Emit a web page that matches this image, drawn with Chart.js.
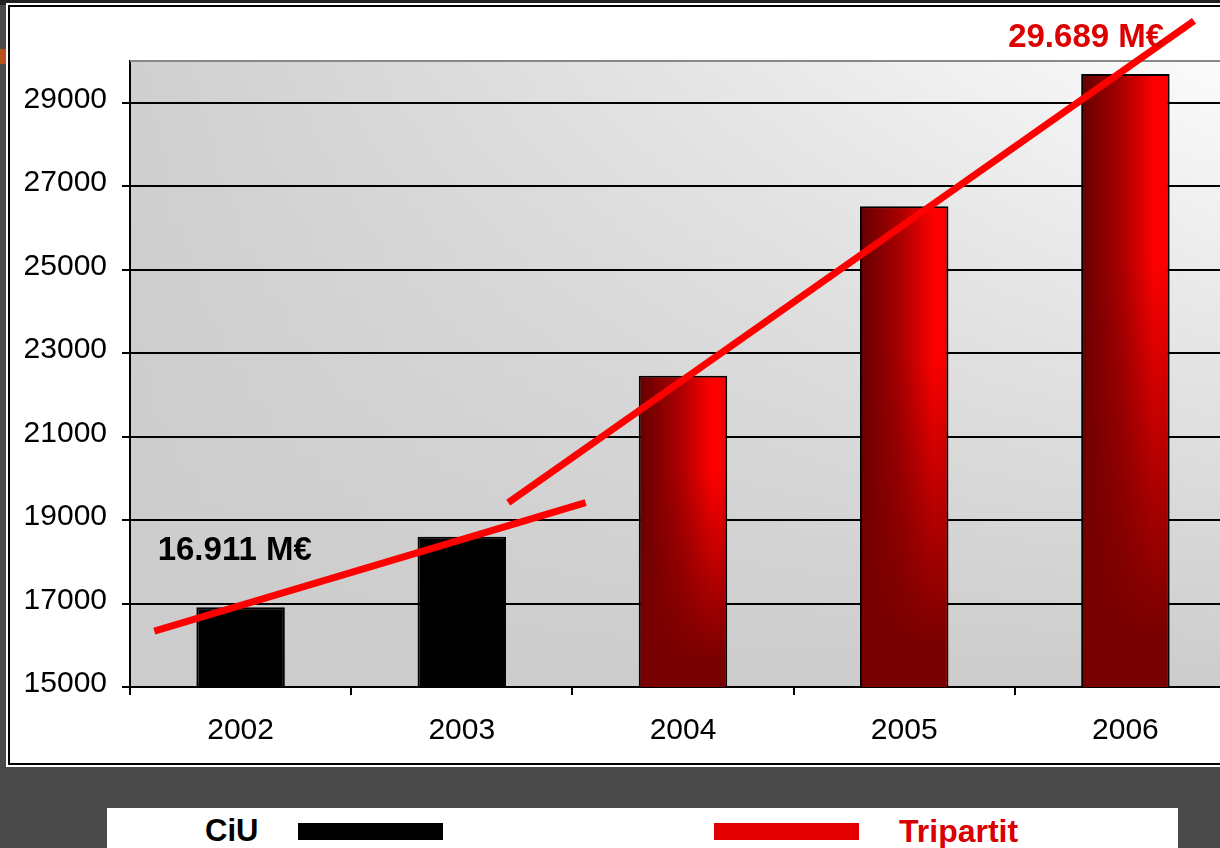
<!DOCTYPE html>
<html lang="ca">
<head>
  <meta charset="UTF-8" />
  <title>CiU / Tripartit</title>
  <script src="https://cdn.jsdelivr.net/npm/chart.js"></script>
  <style>
    html, body { margin: 0; padding: 0; }
    body { width: 1220px; height: 848px; overflow: hidden; background: #4a4a4a; position: relative; font-family: "Liberation Sans", Arial, sans-serif; }
    #topband { position: absolute; left: 0; top: 0; width: 1220px; height: 5px; background: #222; }
    #speck { position: absolute; left: 0; top: 49px; width: 8px; height: 15px; background: #b8501c; }
    #panel { position: absolute; left: 8px; top: 5px; width: 1260px; height: 756px; background: #fff; border: 2px solid #000; outline: 2px solid #fff; }
    #wrap { position: absolute; left: 0; top: 0; width: 1260px; height: 770px; }
    #legend { position: absolute; left: 107px; top: 808px; width: 1071px; height: 40px; background: #fff; }
    .lbl { position: absolute; top: 813px; font-weight: bold; font-size: 31px; line-height: 36px; }
    .sw { position: absolute; top: 823px; height: 17px; }
  </style>
</head>
<body>
  <div id="topband"></div>
  <div id="speck"></div>
  <div id="panel"></div>
  <div id="wrap"><canvas id="chart" width="1260" height="770"></canvas></div>

  <div id="legend"></div>
  <span class="lbl" style="left:205px;color:#000;">CiU</span>
  <span class="sw" style="left:298px;width:145px;background:#000;"></span>
  <span class="sw" style="left:714px;width:145px;background:#e40000;"></span>
  <span class="lbl" style="left:899px;color:#d80000;font-size:32px;">Tripartit</span>

  <script>
    const years = ['2002', '2003', '2004', '2005', '2006'];
    const ciuValues = [16911, 18600, null, null, null];
    const tripartitValues = [null, null, 22460, 26520, 29689];
    const yTicks = [15000, 17000, 19000, 21000, 23000, 25000, 27000, 29000];

    // trend lines, x in category index units
    const trendCiU = [{ x: -0.39, y: 16340 }, { x: 1.56, y: 19420 }];
    const trendTripartit = [{ x: 1.21, y: 19420 }, { x: 4.31, y: 30960 }];

    const notes = [
      { text: '16.911 M€', x: -0.375, y: 18250, color: '#000' },
      { text: '29.689 M€', x: 3.47, y: 30560, color: '#dc0000' }
    ];

    const plotBack = {
      id: 'plotBack',
      beforeDraw(chart) {
        const { ctx, chartArea: a } = chart;
        ctx.save();
        const h = ctx.createLinearGradient(a.left, 0, a.right, 0);
        h.addColorStop(0, '#cfcfcf');
        h.addColorStop(1, '#fcfcfc');
        ctx.fillStyle = h;
        ctx.fillRect(a.left, a.top, a.right - a.left, a.bottom - a.top);
        const v = ctx.createLinearGradient(0, a.top, 0, a.bottom);
        v.addColorStop(0, 'rgba(204,204,204,0)');
        v.addColorStop(1, 'rgba(204,204,204,1)');
        ctx.fillStyle = v;
        ctx.fillRect(a.left, a.top, a.right - a.left, a.bottom - a.top);
        ctx.restore();
      },
      beforeDatasetsDraw(chart) {
        const { ctx, chartArea: a } = chart;
        ctx.save();
        ctx.strokeStyle = '#888';
        ctx.lineWidth = 2;
        ctx.beginPath();
        ctx.moveTo(a.left, a.top);
        ctx.lineTo(a.right, a.top);
        ctx.stroke();
        ctx.restore();
      }
    };

    const shadeBars = {
      id: 'shadeBars',
      afterDatasetDraw(chart, args) {
        if (args.index !== 1) return;
        const c = chart.ctx;
        const a = chart.chartArea;
        const vals = chart.data.datasets[1].data;
        args.meta.data.forEach((bar, i) => {
          if (vals[i] == null) return;
          const p = bar.getProps(['x', 'y', 'base', 'width']);
          const l = p.x - p.width / 2 + 2, r = p.x + p.width / 2 - 2, t = p.y + 2, b = Math.min(p.base, a.bottom);
          c.save();
          const h = c.createLinearGradient(l, 0, r, 0);
          h.addColorStop(0, '#680000');
          h.addColorStop(0.45, '#a80000');
          h.addColorStop(0.85, '#ff0000');
          h.addColorStop(1, '#f80000');
          c.fillStyle = h;
          c.fillRect(l, t, r - l, b - t);
          const v = c.createLinearGradient(0, t, 0, b);
          v.addColorStop(0, 'rgba(120,0,0,0)');
          v.addColorStop(0.3, 'rgba(120,0,0,0)');
          v.addColorStop(0.92, 'rgba(120,0,0,1)');
          v.addColorStop(1, 'rgba(120,0,0,1)');
          c.fillStyle = v;
          c.fillRect(l, t, r - l, b - t);
          c.restore();
        });
      }
    };

    const noteText = {
      id: 'noteText',
      afterDraw(chart) {
        const c = chart.ctx;
        const xs = chart.scales.xl, ys = chart.scales.y;
        c.save();
        c.font = 'bold 33px "Liberation Sans", Arial, sans-serif';
        c.textAlign = 'left';
        c.textBaseline = 'middle';
        notes.forEach(n => {
          c.fillStyle = n.color;
          c.fillText(n.text, xs.getPixelForValue(n.x), ys.getPixelForValue(n.y));
        });
        c.restore();
      }
    };

    const tickFont = { family: '"Liberation Sans", Arial, sans-serif', size: 30 };

    new Chart(document.getElementById('chart'), {
      type: 'bar',
      data: {
        labels: years,
        datasets: [
          {
            label: 'CiU',
            data: ciuValues,
            backgroundColor: '#000',
            borderColor: '#000',
            borderWidth: 2,
            grouped: false,
            order: 1
          },
          {
            label: 'Tripartit',
            data: tripartitValues,
            backgroundColor: '#700000',
            borderColor: '#000',
            borderWidth: 2,
            grouped: false,
            order: 1
          },
          {
            type: 'line',
            label: 'tendència CiU',
            data: trendCiU,
            xAxisID: 'xl',
            borderColor: '#ff0000',
            borderWidth: 7,
            pointRadius: 0,
            clip: false,
            order: 0
          },
          {
            type: 'line',
            label: 'tendència Tripartit',
            data: trendTripartit,
            xAxisID: 'xl',
            borderColor: '#ff0000',
            borderWidth: 7,
            pointRadius: 0,
            clip: false,
            order: 0
          }
        ]
      },
      options: {
        responsive: false,
        animation: false,
        layout: { padding: { left: 0, top: 61, right: 24, bottom: 0 } },
        barPercentage: 0.4,
        categoryPercentage: 1,
        plugins: { legend: { display: false }, tooltip: { enabled: false } },
        scales: {
          x: {
            afterFit(s) { s.height = 83; },
            grid: { drawOnChartArea: false, color: '#000', lineWidth: 2, tickLength: 8 },
            border: { color: '#000', width: 2 },
            ticks: { color: '#000', font: tickFont, padding: 18 }
          },
          xl: {
            type: 'linear',
            position: 'bottom',
            min: -0.5,
            max: 4.5,
            offset: false,
            grid: { offset: false },
            display: false
          },
          y: {
            min: 15000,
            max: 30000,
            beginAtZero: false,
            afterFit(s) { s.width = 130; },
            afterBuildTicks(s) { s.ticks = yTicks.map(v => ({ value: v })); },
            grid: { color: '#000', lineWidth: 2, tickLength: 8 },
            border: { color: '#000', width: 2 },
            ticks: { color: '#000', font: tickFont, padding: 15, labelOffset: -3, callback: v => String(v) }
          }
        }
      },
      plugins: [plotBack, shadeBars, noteText]
    });
  </script>
</body>
</html>
